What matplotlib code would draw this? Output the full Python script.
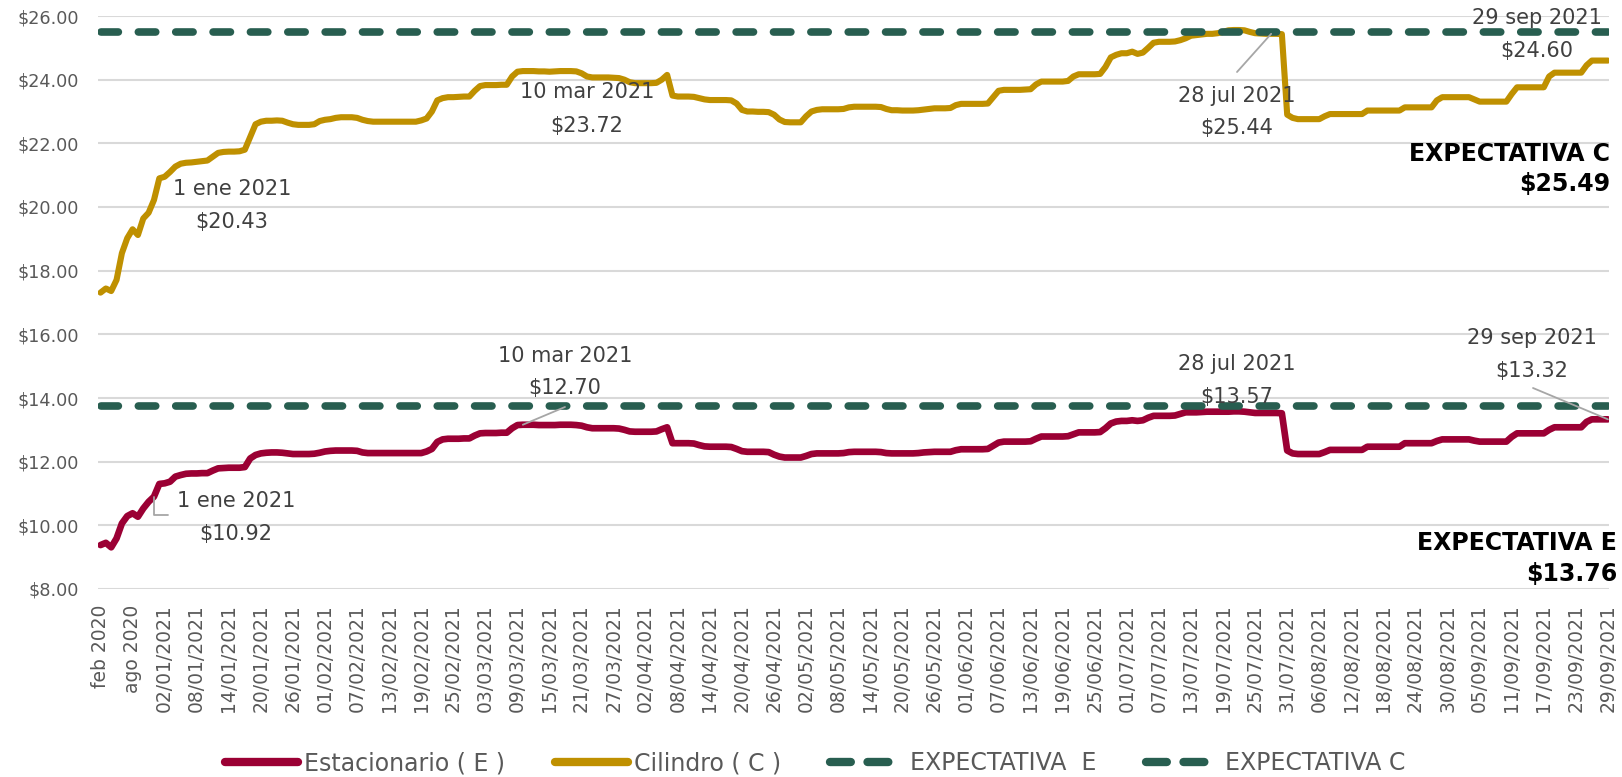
import matplotlib
matplotlib.use("Agg")
import matplotlib.pyplot as plt
from matplotlib.lines import Line2D
import pandas as pd

plt.rcParams["font.family"] = ["DejaVu Sans"]
plt.rcParams["lines.scale_dashes"] = False

# ---------------- data ----------------
months_2020 = ["feb 2020", "mar 2020", "abr 2020", "may 2020", "jun 2020", "jul 2020",
               "ago 2020", "sep 2020", "oct 2020", "nov 2020", "dic 2020"]
days_2021 = pd.date_range("2021-01-01", "2021-09-29").strftime("%d/%m/%Y").tolist()
categories = months_2020 + days_2021

cilindro = [
    17.31, 17.44, 17.36, 17.71, 18.55, 19.02, 19.30, 19.12, 19.64, 19.82,
    20.22, 20.90, 20.95, 21.10, 21.27, 21.36, 21.39, 21.40, 21.42, 21.44,
    21.46, 21.58, 21.70, 21.73, 21.74, 21.74, 21.75, 21.80, 22.20, 22.60,
    22.68, 22.71, 22.71, 22.72, 22.71, 22.65, 22.60, 22.58, 22.58, 22.58,
    22.60, 22.70, 22.74, 22.76, 22.80, 22.82, 22.82, 22.82, 22.80, 22.74,
    22.70, 22.68, 22.68, 22.68, 22.68, 22.68, 22.68, 22.68, 22.68, 22.68,
    22.72, 22.78, 23.00, 23.35, 23.42, 23.45, 23.45, 23.46, 23.47, 23.47,
    23.65, 23.80, 23.83, 23.83, 23.83, 23.84, 23.84, 24.10, 24.25, 24.27,
    24.27, 24.27, 24.26, 24.26, 24.25, 24.26, 24.27, 24.27, 24.27, 24.26,
    24.20, 24.10, 24.07, 24.07, 24.07, 24.07, 24.06, 24.05, 24.00, 23.92,
    23.89, 23.89, 23.89, 23.89, 23.90, 24.00, 24.15, 23.50, 23.47, 23.47,
    23.47, 23.46, 23.42, 23.38, 23.36, 23.36, 23.36, 23.36, 23.35, 23.25,
    23.05, 23.00, 23.00, 22.99, 22.99, 22.98, 22.90, 22.75, 22.67, 22.66,
    22.66, 22.66, 22.85, 23.00, 23.05, 23.07, 23.07, 23.07, 23.07, 23.08,
    23.13, 23.15, 23.15, 23.15, 23.15, 23.15, 23.14, 23.08, 23.04, 23.04,
    23.03, 23.03, 23.03, 23.04, 23.06, 23.08, 23.10, 23.10, 23.10, 23.11,
    23.20, 23.24, 23.24, 23.24, 23.24, 23.24, 23.25, 23.45, 23.65, 23.68,
    23.68, 23.68, 23.68, 23.69, 23.70, 23.85, 23.94, 23.94, 23.94, 23.94,
    23.94, 23.96, 24.10, 24.17, 24.17, 24.17, 24.17, 24.18, 24.40, 24.70,
    24.78, 24.83, 24.83, 24.88, 24.81, 24.85, 25.00, 25.16, 25.19, 25.19,
    25.19, 25.20, 25.24, 25.30, 25.38, 25.40, 25.42, 25.44, 25.44, 25.46,
    25.50, 25.55, 25.56, 25.56, 25.55, 25.50, 25.46, 25.45, 25.44, 25.44,
    25.44, 25.43, 22.90, 22.80, 22.76, 22.76, 22.76, 22.76, 22.76, 22.85,
    22.92, 22.92, 22.92, 22.92, 22.92, 22.92, 22.92, 23.03, 23.03, 23.03,
    23.03, 23.03, 23.03, 23.03, 23.13, 23.13, 23.13, 23.13, 23.13, 23.13,
    23.35, 23.45, 23.45, 23.45, 23.45, 23.45, 23.45, 23.38, 23.31, 23.31,
    23.31, 23.31, 23.31, 23.31, 23.55, 23.76, 23.76, 23.76, 23.76, 23.76,
    23.76, 24.10, 24.22, 24.22, 24.22, 24.22, 24.22, 24.22, 24.45, 24.60,
    24.60, 24.60, 24.60,
]

estacionario = [
    9.38, 9.45, 9.31, 9.59, 10.06, 10.29, 10.38, 10.27, 10.53, 10.74,
    10.90, 11.30, 11.32, 11.37, 11.53, 11.58, 11.62, 11.63, 11.63, 11.64,
    11.64, 11.72, 11.79, 11.80, 11.81, 11.81, 11.81, 11.83, 12.10, 12.21,
    12.26, 12.28, 12.29, 12.29, 12.28, 12.26, 12.24, 12.24, 12.24, 12.24,
    12.25, 12.28, 12.32, 12.34, 12.35, 12.35, 12.35, 12.35, 12.34, 12.29,
    12.27, 12.27, 12.27, 12.27, 12.27, 12.27, 12.27, 12.27, 12.27, 12.27,
    12.27, 12.32, 12.40, 12.62, 12.70, 12.72, 12.72, 12.72, 12.73, 12.73,
    12.82, 12.89, 12.90, 12.90, 12.90, 12.91, 12.91, 13.05, 13.15, 13.16,
    13.16, 13.16, 13.15, 13.15, 13.15, 13.15, 13.16, 13.16, 13.16, 13.15,
    13.13, 13.08, 13.05, 13.05, 13.05, 13.05, 13.05, 13.04, 13.00, 12.95,
    12.94, 12.94, 12.94, 12.94, 12.95, 13.02, 13.08, 12.58, 12.58, 12.58,
    12.58, 12.57, 12.52, 12.48, 12.47, 12.47, 12.47, 12.47, 12.46, 12.40,
    12.33, 12.31, 12.31, 12.31, 12.31, 12.30, 12.22, 12.16, 12.13, 12.13,
    12.13, 12.13, 12.18, 12.24, 12.26, 12.26, 12.26, 12.26, 12.26, 12.27,
    12.30, 12.31, 12.31, 12.31, 12.31, 12.31, 12.30, 12.27, 12.26, 12.26,
    12.26, 12.26, 12.26, 12.27, 12.29, 12.30, 12.31, 12.31, 12.31, 12.31,
    12.36, 12.39, 12.39, 12.39, 12.39, 12.39, 12.40, 12.50, 12.60, 12.63,
    12.63, 12.63, 12.63, 12.63, 12.64, 12.72, 12.79, 12.79, 12.79, 12.79,
    12.79, 12.80, 12.86, 12.92, 12.92, 12.92, 12.92, 12.93, 13.05, 13.20,
    13.26, 13.28, 13.28, 13.30, 13.28, 13.30, 13.38, 13.44, 13.44, 13.44,
    13.44, 13.45, 13.50, 13.55, 13.55, 13.55, 13.56, 13.57, 13.57, 13.57,
    13.57, 13.57, 13.58, 13.58, 13.57, 13.55, 13.53, 13.53, 13.53, 13.53,
    13.53, 13.52, 12.35, 12.26, 12.24, 12.24, 12.24, 12.24, 12.24, 12.30,
    12.37, 12.37, 12.37, 12.37, 12.37, 12.37, 12.37, 12.47, 12.47, 12.47,
    12.47, 12.47, 12.47, 12.47, 12.58, 12.58, 12.58, 12.58, 12.58, 12.58,
    12.65, 12.70, 12.70, 12.70, 12.70, 12.70, 12.70, 12.66, 12.63, 12.63,
    12.63, 12.63, 12.63, 12.63, 12.78, 12.89, 12.89, 12.89, 12.89, 12.89,
    12.89, 13.00, 13.08, 13.08, 13.08, 13.08, 13.08, 13.08, 13.25, 13.33,
    13.33, 13.33, 13.33,
]

expectativa_E = 13.76
expectativa_C = 25.49

series_names = ["Estacionario ( E )", "Cilindro ( C )", "EXPECTATIVA  E", "EXPECTATIVA C"]
y_ticks = [8, 10, 12, 14, 16, 18, 20, 22, 24, 26]

# annotations: (index, line1, line2)
notes_C = [(11, "1 ene 2021", "$20.43"), (79, "10 mar 2021", "$23.72"),
           (219, "28 jul 2021", "$25.44"), (282, "29 sep 2021", "$24.60")]
notes_E = [(10, "1 ene 2021", "$10.92"), (79, "10 mar 2021", "$12.70"),
           (219, "28 jul 2021", "$13.57"), (282, "29 sep 2021", "$13.32")]

# ---------------- style ----------------
COL_E = "#9B0034"
COL_C = "#BF9000"
COL_X = "#285E50"
GRID = "#d9d9d9"
TXT = "#595959"
ANN = "#404040"
LEAD = "#a6a6a6"

W, H = 1622, 777
fig = plt.figure(figsize=(W / 100, H / 100), dpi=100)
fig.patch.set_facecolor("white")

ax_l, ax_r, ax_t, ax_b = 98, 1609, 16, 589
ax = fig.add_axes([ax_l / W, 1 - ax_b / H, (ax_r - ax_l) / W, (ax_b - ax_t) / H])
ax.set_facecolor("none")

x = list(range(len(categories)))
ax.plot(x, estacionario, color=COL_E, lw=4.8, solid_capstyle="round",
        solid_joinstyle="round", zorder=3)
ax.plot(x, cilindro, color=COL_C, lw=4.4, solid_capstyle="round",
        solid_joinstyle="round", zorder=3)
dash = (0, (12.5, 14.4))
for val in (expectativa_E, expectativa_C):
    ax.plot([x[0], x[-1]], [val, val], color=COL_X, lw=5.5, linestyle=dash,
            dash_capstyle="round", zorder=4)

ax.set_xlim(-0.47, 282.2)
ax.set_ylim(8, 26)
ax.set_yticks(y_ticks)
ax.set_yticklabels([f"${v:.2f}" for v in y_ticks], color=TXT, fontsize=12.7)
tick_pos = list(range(0, len(categories), 6))
ax.set_xticks(tick_pos)
ax.set_xticklabels([categories[i] for i in tick_pos], rotation=90, color=TXT,
                   fontsize=13.5)
ax.tick_params(axis="both", length=0)
ax.tick_params(axis="y", pad=14)
ax.tick_params(axis="x", pad=11)
ax.grid(axis="y", color=GRID, lw=1.5, zorder=0)
ax.set_axisbelow(True)
for s in ax.spines.values():
    s.set_visible(False)


def ftext(px, py, s, **kw):
    fig.text(px / W, 1 - py / H, s, **kw)


def lead(i, vals, px, py, **kw):
    ax.annotate("", xy=(i, vals[i]), xycoords="data", xytext=(px, H - py),
                textcoords="figure pixels",
                arrowprops=dict(arrowstyle="-", color=LEAD, lw=1.3,
                                shrinkA=0, shrinkB=0, **kw), zorder=5)


# text positions in figure pixels (centre of each line)
pos_C = [(232, 189, 222), (587, 92, 126), (1237, 96, 128), (1537, 18, 51)]
pos_E = [(236, 501, 534), (565, 356, 388), (1237, 364, 397), (1532, 338, 371)]
for (i, a, b), (px, y1, y2) in zip(notes_C, pos_C):
    ftext(px, y1, a, ha="center", va="center", fontsize=15, color=ANN)
    ftext(px, y2, b, ha="center", va="center", fontsize=15, color=ANN)
for (i, a, b), (px, y1, y2) in zip(notes_E, pos_E):
    ftext(px, y1, a, ha="center", va="center", fontsize=15, color=ANN)
    ftext(px, y2, b, ha="center", va="center", fontsize=15, color=ANN)

# leader lines
lead(notes_C[2][0], cilindro, 1237, 72)
lead(notes_E[1][0], estacionario, 565, 407)
lead(notes_E[3][0], estacionario, 1533, 388)
lead(notes_E[0][0], estacionario, 168, 515,
     connectionstyle="angle,angleA=0,angleB=90,rad=0")

# expectation labels
ftext(1610, 154, "EXPECTATIVA C", ha="right", va="center", fontsize=17,
      fontweight="bold", color="black")
ftext(1610, 184, f"${expectativa_C:.2f}", ha="right", va="center", fontsize=17,
      fontweight="bold", color="black")
ftext(1617, 543, "EXPECTATIVA E", ha="right", va="center", fontsize=17,
      fontweight="bold", color="black")
ftext(1617, 574, f"${expectativa_E:.2f}", ha="right", va="center", fontsize=17,
      fontweight="bold", color="black")

# legend
ldash = (0, (15, 12))
handles = [
    Line2D([], [], color=COL_E, lw=6, solid_capstyle="round"),
    Line2D([], [], color=COL_C, lw=6, solid_capstyle="round"),
    Line2D([], [], color=COL_X, lw=6, linestyle=ldash, dash_capstyle="round"),
    Line2D([], [], color=COL_X, lw=6, linestyle=ldash, dash_capstyle="round"),
]
leg = fig.legend(handles, series_names, loc="center", ncol=4,
                 bbox_to_anchor=(815 / W, 1 - 763 / H), frameon=False,
                 fontsize=17, handlelength=3.1, handletextpad=0.25,
                 columnspacing=2.1, borderpad=0)
for t in leg.get_texts():
    t.set_color(TXT)

fig.savefig("out.png", dpi=100)
